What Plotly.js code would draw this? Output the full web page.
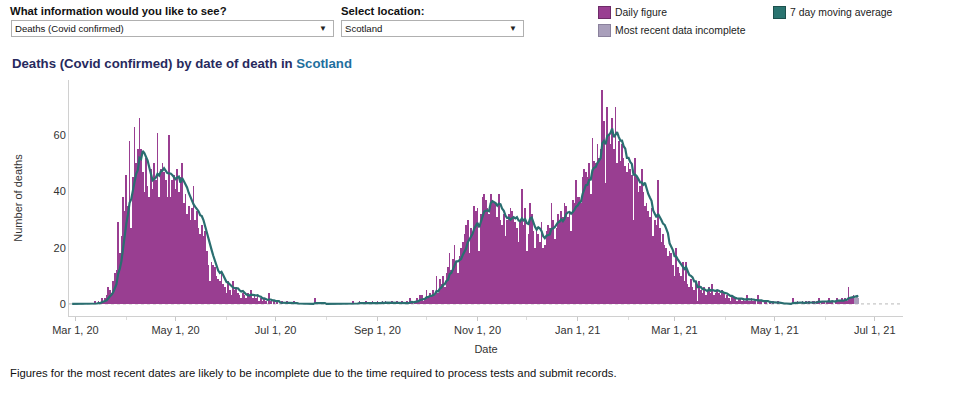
<!DOCTYPE html>
<html><head><meta charset="utf-8">
<script src="https://cdn.plot.ly/plotly-3.0.1.min.js"></script>
<style>
body{margin:0;background:#fff;font-family:"Liberation Sans",Arial,sans-serif;}
#wrap{position:relative;width:962px;height:394px;overflow:hidden;}
#chart{position:absolute;left:0;top:0;width:962px;height:394px;}
.lbl{position:absolute;font-weight:bold;font-size:11.3px;color:#111;white-space:nowrap;line-height:14px;}
.dd{position:absolute;border:1px solid #b0b0b0;background:#fff;box-sizing:border-box;height:17px;font-size:9.6px;color:#111;line-height:15px;padding-left:3px;white-space:nowrap;}
.dd .arr{position:absolute;right:6px;top:0;font-size:8px;color:#222;}
.note{position:absolute;left:10px;top:367px;font-size:11.3px;color:#111;white-space:nowrap;}
.sw{position:absolute;width:13px;height:13px;box-sizing:border-box;}
.lt{position:absolute;font-size:10.4px;color:#222;white-space:nowrap;line-height:13px;}
</style></head>
<body><div id="wrap">
<div id="chart"></div>
<div class="lbl" style="left:10px;top:4px;">What information would you like to see?</div>
<div class="dd" style="left:11px;top:20px;width:323px;">Deaths (Covid confirmed)<span class="arr">&#9660;</span></div>
<div class="lbl" style="left:341px;top:4px;">Select location:</div>
<div class="dd" style="left:341px;top:20px;width:183px;">Scotland<span class="arr">&#9660;</span></div>
<div class="sw" style="left:598px;top:6px;background:#993e91;border:1px solid #6e2b68;"></div>
<div class="lt" style="left:615px;top:6px;">Daily figure</div>
<div class="sw" style="left:598px;top:24px;background:#a99fbb;border:1px solid #8a819c;"></div>
<div class="lt" style="left:615px;top:24px;">Most recent data incomplete</div>
<div class="sw" style="left:773px;top:6px;background:#2a7470;border:1px solid #1d504d;"></div>
<div class="lt" style="left:790px;top:6px;">7 day moving average</div>
<div class="note">Figures for the most recent dates are likely to be incomplete due to the time required to process tests and submit records.</div>
</div>
<script>
// Daily deaths (Covid confirmed), Scotland, by date of death. First value = 28 Feb 2020.
const startDate = [2020, 1, 28];
const d2020_02 = [0,0];
const d2020_03 = [0,0,0,0,0,0,0,0,0,0,0, 0,1,0,1,0,2,1,2,3,6, 5,4,8,11,12,29,18,24,38,33];
const d2020_04 = [46,35,58,27,45,63,50,55,66,55, 47,40,52,42,38,48,41,50,44,61, 38,48,50,47,44,38,60,38,44,46];
const d2020_05 = [41,48,40,45,50,36,39,32,35,30, 34,42,30,33,27,25,28,24,26,19, 14,8,15,14,13,10,9,8,11,7,6];
const d2020_06 = [4,8,5,3,8,5,6,4,3,2, 4,3,2,4,3,5,2,3,2,3, 1,2,1,2,1,0,4,1,0,1];
const d2020_07 = [0,1,0,0,1,0,0,1,0,0, 0,1,0,0,0,0,0,0,0,0, 0,0,0,0,2,0,0,0,0,0,0];
const d2020_08 = [0,0,0,0,0,0,0,0,0, 0,0,0,0,0,0,0,1,0,0, 0,1,0,0,0,1,0,0,0,1, 0,0];
const d2020_09 = [1,0,0,1,0,1,0,0, 0,1,0,0,1,0,0,1,0,0, 1,0,2,1,0,1,2, 1,3,3,1,2];
const d2020_10 = [5,2,4,3,5,3,10,4,9,7, 10,6,11,13,18,12,16,21,15,11, 17,20,22,25,28,30,18,27,25,35,33];
const d2020_11 = [34,19,32,38,39,37,34,32,39,37, 36,36,31,39,30,28,32,24,30,32, 34,33,31,29,27,22,30,41,28,34];
const d2020_12 = [19,25,36,32,26,20,27,25,22,29, 20,21,26,28,27,36,30,23,27,32, 30,33,31,36,35,31,33,26,37,36,44];
const d2021_01 = [38,38,36,45,48,47,45,50,39,59, 51,50,57,52,55,76,65,43,70,60, 57,66,55,70,50,58,51,57,52,49,47];
const d2021_02 = [50,48,46,30,52,45,40,42,48,40, 35,36,33,31,34,24,30,28,44,27, 22,25,21,20,17,19,18,14];
const d2021_03 = [10,20,13,11,10,15,8,15,7,6, 9,6,5,8,1,8,5,4,6,3, 5,6,4,7,3,4,5,4,3,5,4];
const d2021_04 = [2,3,2,1,3,2,2,1,2,2, 1,2,1,3,1,1,2,1,1,0, 3,1,1,0,1,1,0,1,0,1];
const d2021_05 = [0,0,1,0,0,0,0,0,0,0,0, 2,0,0,1,0,0,1,0,1,0, 1,0,1,1,0,1,2,0,1,1];
const d2021_06 = [0,1,2,1,1,0,1,2,1,1, 2,1,2,1,6,2,2,3,2,3,2];
const incompleteDays = 3;   // most recent days flagged as incomplete
const tickLabels = ['Mar 1, 20','May 1, 20','Jul 1, 20','Sep 1, 20','Nov 1, 20','Jan 1, 21','Mar 1, 21','May 1, 21','Jul 1, 21'];
const tickDates = ['2020-03-01','2020-05-01','2020-07-01','2020-09-01','2020-11-01','2021-01-01','2021-03-01','2021-05-01','2021-07-01'];
const yTicks = [0, 20, 40, 60];

const daily = [].concat(d2020_02,d2020_03,d2020_04,d2020_05,d2020_06,d2020_07,d2020_08,d2020_09,
  d2020_10,d2020_11,d2020_12,d2021_01,d2021_02,d2021_03,d2021_04,d2021_05,d2021_06);
const t0 = Date.UTC(startDate[0], startDate[1], startDate[2]);
const dates = daily.map((_, i) => new Date(t0 + i * 86400000).toISOString().slice(0, 10));
// 7 day (trailing) moving average of the daily figures
const avg7 = daily.map((_, i) => {
  const s = daily.slice(Math.max(0, i - 6), i + 1);
  return s.reduce((a, b) => a + b, 0) / s.length;
});
const k = daily.length - incompleteDays;

const PURPLE = '#993e91', INCOMPLETE = '#a99fbb', TEAL = '#2a6e70';
const FONT = '"Liberation Sans", Arial, sans-serif';

const traces = [
  {type:'bar', name:'Daily figure', x:dates.slice(0,k), y:daily.slice(0,k),
   marker:{color:PURPLE, line:{width:0}}},
  {type:'bar', name:'Most recent data incomplete', x:dates.slice(k), y:daily.slice(k),
   marker:{color:INCOMPLETE, line:{width:0}}},
  {type:'scatter', mode:'lines', name:'7 day moving average', x:dates, y:avg7,
   line:{color:TEAL, width:2.2}}
];

const L = 69, R = 903, T = 80, B = 316, W = 962, H = 394;
const layout = {
  width:W, height:H, margin:{l:L, r:W-R, t:T, b:H-B, pad:0, autoexpand:false},
  paper_bgcolor:'#fff', plot_bgcolor:'#fff', showlegend:false,
  font:{family:FONT, size:11, color:'#333'},
  bargap:0, barmode:'overlay',
  title:{text:'<b>Deaths (Covid confirmed) by date of death in <span style="color:#1f6f9e">Scotland</span></b>',
    xref:'container', yref:'container', x:12/W, xanchor:'left', y:1-63/H, yanchor:'middle',
    font:{family:FONT, size:13.2, color:'#272a5e'}},
  xaxis:{type:'date', range:['2020-02-26 02:00','2021-07-18 05:00'],
    tickvals:tickDates, ticktext:tickLabels, ticks:'outside', ticklen:4, tickcolor:'#c8c8c8',
    showline:true, linecolor:'#d0d0d0', linewidth:1, showgrid:false, zeroline:false,
    tickfont:{size:11, color:'#333'},
    minor:{dtick:'M1', tick0:'2020-03-01', ticks:'outside', ticklen:3, tickcolor:'#dcdcdc', showgrid:false},
    title:{text:'Date', font:{size:11, color:'#333'}, standoff:10}},
  yaxis:{range:[-4.3, 79.7], tickvals:yTicks, ticks:'', showline:true, linecolor:'#d0d0d0',
    linewidth:1, showgrid:false, zeroline:false, tickfont:{size:11, color:'#333'},
    title:{text:'Number of deaths', font:{size:11, color:'#333'}, standoff:28}},
  shapes:[{type:'line', xref:'paper', x0:0, x1:1, yref:'y', y0:0, y1:0,
    line:{color:'#b8b8b8', width:1, dash:'dot'}, layer:'below'}]
};
Plotly.newPlot('chart', traces, layout, {displayModeBar:false, staticPlot:true});
</script>
</body></html>
